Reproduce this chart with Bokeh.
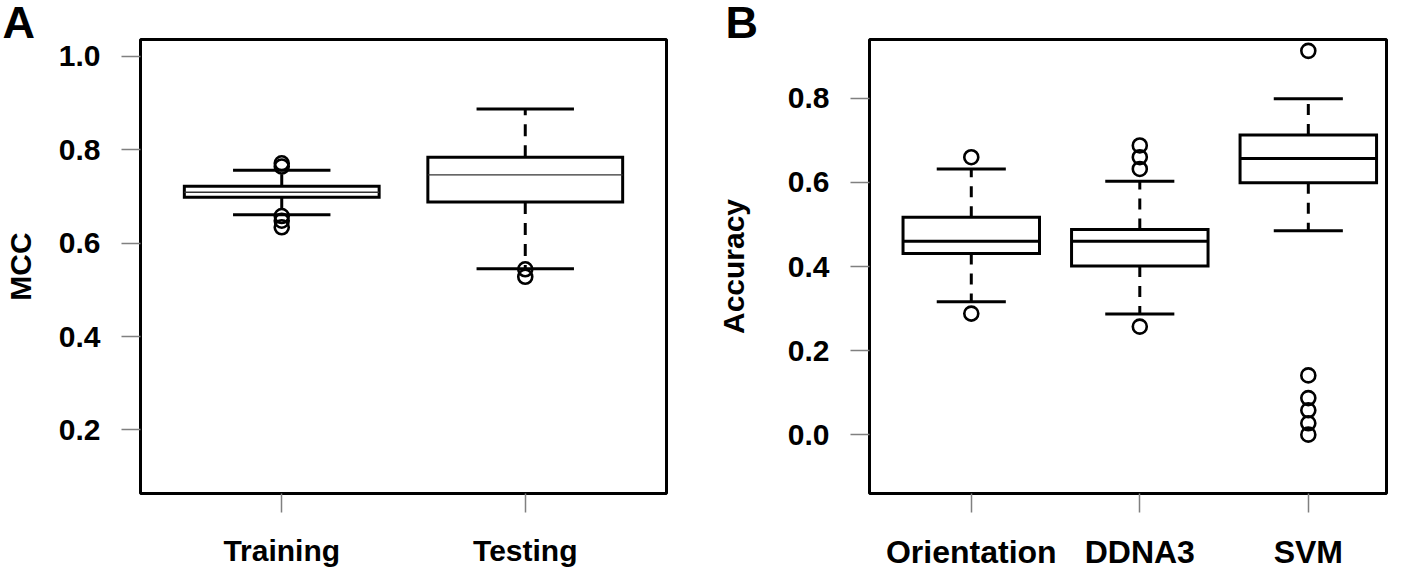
from bokeh.plotting import figure
from bokeh.layouts import row
from bokeh.models import FixedTicker, Range1d, ColumnDataSource, Title
from bokeh.embed import file_html
from bokeh.resources import INLINE

# ---------------- Panel A data ----------------
a_groups = ["Training", "Testing"]
a_q1 = [0.698, 0.688]
a_median = [0.709, 0.746]
a_q3 = [0.722, 0.784]
a_whisk_lo = [0.661, 0.545]
a_whisk_hi = [0.756, 0.887]
a_out_group = ["Training", "Training", "Training", "Training", "Training", "Testing", "Testing"]
a_out_value = [0.771, 0.764, 0.658, 0.648, 0.634, 0.544, 0.528]
a_yticks = [0.2, 0.4, 0.6, 0.8, 1.0]

# ---------------- Panel B data ----------------
b_groups = ["Orientation", "DDNA3", "SVM"]
b_q1 = [0.431, 0.401, 0.599]
b_median = [0.460, 0.460, 0.657]
b_q3 = [0.517, 0.488, 0.713]
b_whisk_lo = [0.316, 0.287, 0.485]
b_whisk_hi = [0.632, 0.603, 0.799]
b_out_group = ["Orientation", "Orientation", "DDNA3", "DDNA3", "DDNA3", "DDNA3",
               "SVM", "SVM", "SVM", "SVM", "SVM", "SVM"]
b_out_value = [0.660, 0.288, 0.688, 0.660, 0.632, 0.257,
               0.913, 0.141, 0.087, 0.058, 0.027, 0.000]
b_yticks = [0.0, 0.2, 0.4, 0.6, 0.8]

panel_letters = ["A", "B"]

FONT = "Liberation Sans"
TICK_GRAY = "#808080"


def style_axes(p, ylabel, label_standoff, xlabel_size):
    p.xgrid.visible = False
    p.ygrid.visible = False
    p.outline_line_color = "black"
    p.outline_line_width = 3
    for ax in (p.xaxis[0], p.yaxis[0]):
        ax.axis_line_color = None
        ax.major_tick_in = 0
        ax.major_tick_out = 19
        ax.major_tick_line_color = TICK_GRAY
        ax.major_tick_line_width = 1.5
        ax.minor_tick_line_color = None
        ax.major_label_text_font = FONT
        ax.major_label_text_font_style = "bold"
        ax.major_label_text_font_size = "30px"
        ax.major_label_text_color = "black"
        ax.major_label_standoff = 21
    p.xaxis.major_label_text_font_size = xlabel_size
    p.yaxis.axis_label = ylabel
    p.yaxis.axis_label_text_font = FONT
    p.yaxis.axis_label_text_font_style = "bold"
    p.yaxis.axis_label_text_font_size = "30px"
    p.yaxis.axis_label_text_color = "black"
    p.yaxis.axis_label_standoff = label_standoff


def add_letter(p, letter, offset):
    p.add_layout(Title(text=letter, align="left", vertical_align="middle", offset=offset,
                       standoff=-19, text_font=FONT, text_font_style="bold",
                       text_font_size="45px", text_color="black"), "above")


def draw_boxes(p, groups, q1, med, q3, wlo, whi, out_g, out_v,
               box_w, cap_w, med_width, med_color, dash):
    xs = [i + 1 for i in range(len(groups))]
    pos = {g: i + 1 for i, g in enumerate(groups)}
    src = ColumnDataSource(dict(
        x=xs, q1=q1, med=med, q3=q3, wlo=wlo, whi=whi,
        bl=[x - box_w / 2 for x in xs], br=[x + box_w / 2 for x in xs],
        cl=[x - cap_w / 2 for x in xs], cr=[x + cap_w / 2 for x in xs],
    ))
    # whiskers (dashed)
    p.segment(x0="x", y0="q3", x1="x", y1="whi", source=src, line_color="black",
              line_width=3, line_dash=dash)
    p.segment(x0="x", y0="q1", x1="x", y1="wlo", source=src, line_color="black",
              line_width=3, line_dash=dash)
    # caps
    p.segment(x0="cl", y0="whi", x1="cr", y1="whi", source=src, line_color="black", line_width=3)
    p.segment(x0="cl", y0="wlo", x1="cr", y1="wlo", source=src, line_color="black", line_width=3)
    # boxes
    p.quad(left="bl", right="br", bottom="q1", top="q3", source=src, fill_color="white",
           line_color="black", line_width=3, line_join="miter")
    # medians
    p.segment(x0="bl", y0="med", x1="br", y1="med", source=src, line_color=med_color,
              line_width=med_width)
    # outliers
    p.scatter(x=[pos[g] for g in out_g], y=out_v, marker="circle", size=14,
              fill_color=None, line_color="black", line_width=2.6)


# ---------------- Figure A ----------------
pa = figure(frame_width=526, frame_height=454, min_border_left=140, min_border_right=39,
            min_border_top=38, min_border_bottom=75,
            x_range=Range1d(0.42, 2.58), y_range=Range1d(0.064, 1.036),
            output_backend="svg", toolbar_location=None, background_fill_color="white",
            border_fill_color="white")
style_axes(pa, "MCC", 19, "30px")
pa.xaxis.ticker = FixedTicker(ticks=[1, 2])
pa.xaxis.major_label_overrides = {i + 1: g for i, g in enumerate(a_groups)}
pa.yaxis.ticker = FixedTicker(ticks=a_yticks)
pa.yaxis.major_label_overrides = {v: f"{v:.1f}" for v in a_yticks}
draw_boxes(pa, a_groups, a_q1, a_median, a_q3, a_whisk_lo, a_whisk_hi,
           a_out_group, a_out_value, 0.80, 0.40, 1.3, "#333333", "12 9")
add_letter(pa, panel_letters[0], -138)

# ---------------- Figure B ----------------
pb = figure(frame_width=517, frame_height=454, min_border_left=164, min_border_right=31,
            min_border_top=39, min_border_bottom=74,
            x_range=Range1d(0.396, 3.464), y_range=Range1d(-0.14, 0.94),
            output_backend="svg", toolbar_location=None, background_fill_color="white",
            border_fill_color="white")
style_axes(pb, "Accuracy", 35, "32px")
pb.xaxis.ticker = FixedTicker(ticks=[1, 2, 3])
pb.xaxis.major_label_overrides = {i + 1: g for i, g in enumerate(b_groups)}
pb.yaxis.ticker = FixedTicker(ticks=b_yticks)
pb.yaxis.major_label_overrides = {v: f"{v:.1f}" for v in b_yticks}
draw_boxes(pb, b_groups, b_q1, b_median, b_q3, b_whisk_lo, b_whisk_hi,
           b_out_group, b_out_value, 0.81, 0.41, 3, "black", "11 9")
add_letter(pb, panel_letters[1], -144)

layout = row(pa, pb, spacing=0)
open("out.html", "w").write(file_html(layout, INLINE))
